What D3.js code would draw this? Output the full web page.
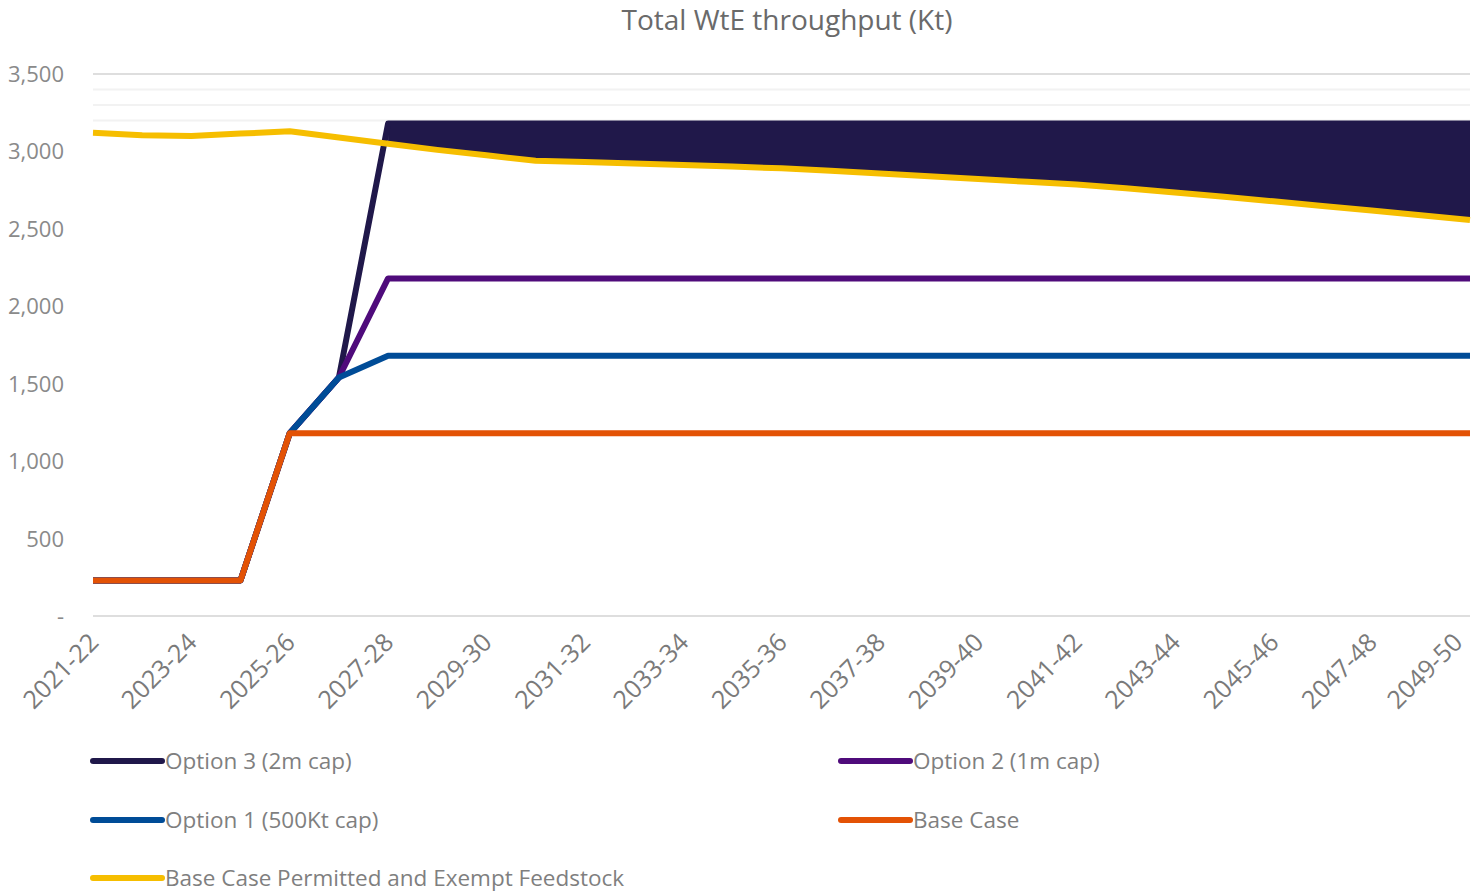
<!DOCTYPE html>
<html>
<head>
<meta charset="utf-8">
<script src="https://cdn.jsdelivr.net/npm/d3@7"></script>
<style>
  body { margin: 0; background: #fff; }
  text { font-family: "Open Sans", "Noto Sans", sans-serif; }
</style>
</head>
<body>
<div id="chart"></div>
<script>
// years on the x axis
var years = ['2021-22','2022-23','2023-24','2024-25','2025-26','2026-27','2027-28','2028-29','2029-30','2030-31',
    '2031-32','2032-33','2033-34','2034-35','2035-36','2036-37','2037-38','2038-39','2039-40','2040-41',
    '2041-42','2042-43','2043-44','2044-45','2045-46','2046-47','2047-48','2048-49','2049-50'];

// Kt per year
var option3 = [230,230,230,230,1180,1540,3180,3180,3180,3180,3180,3180,3180,3180,3180,3180,3180,3180,3180,3180,3180,3180,3180,3180,3180,3180,3180,3180,3180];
var option2 = [230,230,230,230,1180,1540,2180,2180,2180,2180,2180,2180,2180,2180,2180,2180,2180,2180,2180,2180,2180,2180,2180,2180,2180,2180,2180,2180,2180];
var option1 = [230,230,230,230,1180,1540,1680,1680,1680,1680,1680,1680,1680,1680,1680,1680,1680,1680,1680,1680,1680,1680,1680,1680,1680,1680,1680,1680,1680];
var baseCase = [230,230,230,230,1180,1180,1180,1180,1180,1180,1180,1180,1180,1180,1180,1180,1180,1180,1180,1180,1180,1180,1180,1180,1180,1180,1180,1180,1180];
var feedstock = [3120,3105,3100,3115,3130,3090,3050,3010,2975,2940,2931,2922,2912,2902,2891,2875,2858,2840,2822,2804,2786,2762,2735,2707,2678,2648,2618,2588,2557];

var yTicks = [0,500,1000,1500,2000,2500,3000,3500];
var minorGrid = [3200,3300,3400];

var seriesNames = ['Option 3 (2m cap)','Option 2 (1m cap)','Option 1 (500Kt cap)','Base Case','Base Case Permitted and Exempt Feedstock'];
var seriesColors = ['#20184a','#4f0b7b','#004c97','#e35205','#f6be00'];

var width = 1474, height = 893;

var svg = d3.select('#chart')
    .append('svg')
    .attr('width', width)
    .attr('height', height);

var x = d3.scalePoint()
    .domain(years)
    .range([93, 1470]);

var y = d3.scaleLinear()
    .domain([0, 3500])
    .range([616, 74]);

// title
svg.append('text')
    .attr('x', 787)
    .attr('y', 30)
    .attr('text-anchor', 'middle')
    .attr('font-size', 28)
    .attr('fill', '#6a6a6a')
    .text('Total WtE throughput (Kt)');

// faint gridlines near the top
svg.selectAll('.minor')
    .data(minorGrid)
    .enter()
    .append('line')
    .attr('x1', x(years[0]))
    .attr('x2', x(years[years.length - 1]))
    .attr('y1', d => y(d))
    .attr('y2', d => y(d))
    .attr('stroke', '#f2f2f2')
    .attr('stroke-width', 2);

// top gridline
svg.append('line')
    .attr('x1', x(years[0]))
    .attr('x2', x(years[years.length - 1]))
    .attr('y1', y(3500))
    .attr('y2', y(3500))
    .attr('stroke', '#dedede')
    .attr('stroke-width', 2);

// base axis line
svg.append('line')
    .attr('x1', x(years[0]))
    .attr('x2', x(years[years.length - 1]))
    .attr('y1', y(0))
    .attr('y2', y(0))
    .attr('stroke', '#dedede')
    .attr('stroke-width', 2);

// y labels
svg.selectAll('.ylab')
    .data(yTicks)
    .enter()
    .append('text')
    .attr('x', 64)
    .attr('y', d => y(d) + 8)
    .attr('text-anchor', 'end')
    .attr('font-size', 22)
    .attr('fill', '#8a8a8a')
    .text(d => d === 0 ? '-' : d3.format(',')(d));

// x labels, every other year
svg.selectAll('.xlab')
    .data(years.filter((d, i) => i % 2 === 0))
    .enter()
    .append('text')
    .attr('text-anchor', 'end')
    .attr('font-size', 25)
    .attr('fill', '#7a7a7a')
    .attr('transform', d => 'translate(' + Math.min(x(d) + 7, 1464) + ',644) rotate(-45)')
    .text(d => d);

// gap between capacity and feedstock
var gap = d3.area()
    .defined((d, i) => i >= 6)
    .x((d, i) => x(years[i]))
    .y0((d, i) => y(feedstock[i]))
    .y1(d => y(d));

svg.append('path')
    .datum(option3)
    .attr('d', gap)
    .attr('fill', seriesColors[0]);

var line = d3.line()
    .x((d, i) => x(years[i]))
    .y(d => y(d));

var drawn = [option3, option2, option1, baseCase, feedstock];
drawn.forEach(function (values, k) {
    svg.append('path')
        .datum(values)
        .attr('d', line)
        .attr('fill', 'none')
        .attr('stroke', seriesColors[k])
        .attr('stroke-width', 6)
        .attr('stroke-linejoin', 'round');
});

// legend
var legendPos = [[93,761],[841,761],[93,820],[841,820],[93,878]];
seriesNames.forEach(function (name, k) {
    var p = legendPos[k];
    svg.append('line')
        .attr('x1', p[0])
        .attr('x2', p[0] + 69)
        .attr('y1', p[1])
        .attr('y2', p[1])
        .attr('stroke', seriesColors[k])
        .attr('stroke-width', 6)
        .attr('stroke-linecap', 'round');
    svg.append('text')
        .attr('x', p[0] + 72)
        .attr('y', p[1] + 8)
        .attr('font-size', 22.5)
        .attr('fill', '#7f7f7f')
        .text(name);
});
</script>
</body>
</html>
